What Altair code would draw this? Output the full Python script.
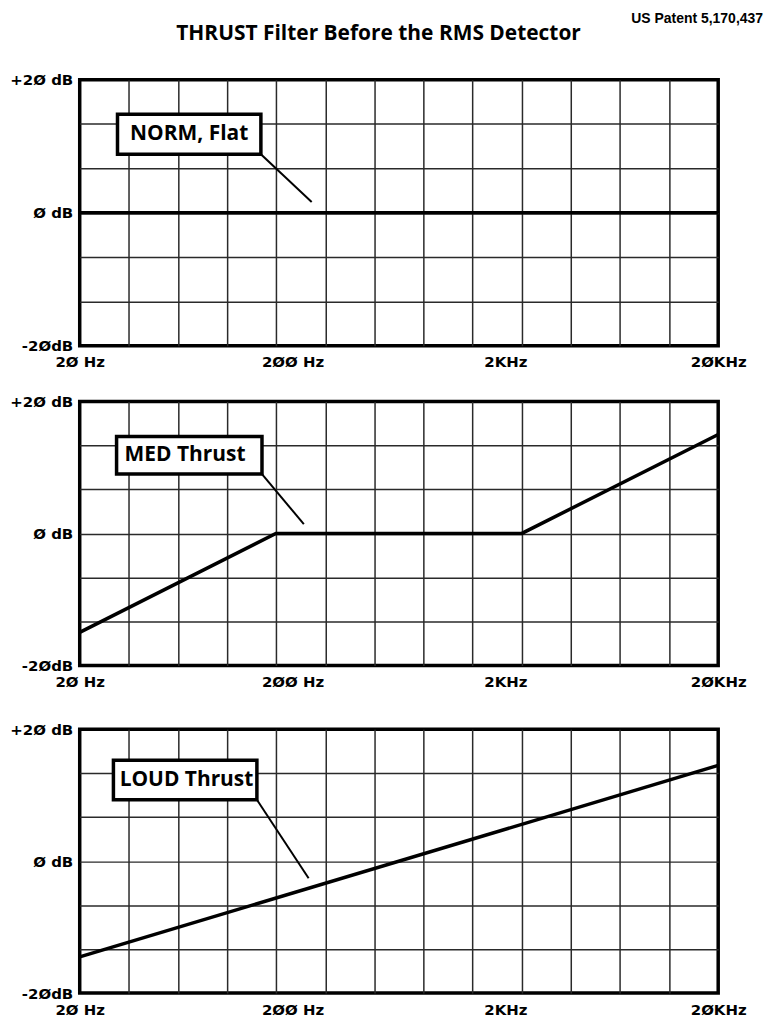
import altair as alt
import pandas as pd

# ---- data ----
norm_freq = [20, 20000]
norm_db = [0, 0]
med_freq = [20, 167, 2390, 20000]
med_db = [-15, 0, 0, 15]
loud_freq = [20, 20000]
loud_db = [-14.5, 14.5]

x_labels = {20: "2Ø Hz", 200: "2ØØ Hz", 2000: "2KHz", 20000: "2ØKHz"}
y_labels = {20: "+2Ø dB", 0: "Ø dB", -20: "-2ØdB"}

# callout annotations: (label, box x0, box x1, box y_top, box y_bottom, text x, leader end x, leader end y)
callouts = [
    ("NORM, Flat", 30.1, 142, 14.8, 8.8, 34.5, 246, 1.6),
    ("MED Thrust", 29.8, 143.7, 14.7, 9.0, 32.5, 226, 1.4),
    ("LOUD Thrust", 28.8, 136, 15.3, 9.3, 30.8, 238, -2.6),
]

TITLE = "THRUST Filter Before the RMS Detector"
PATENT = "US Patent 5,170,437"

# ---- layout / styling ----
W = 641
HEIGHTS = [267, 265, 265]
LABEL_FONT = "DejaVu Sans"
TEXT_FONT = "Open Sans"

grid_x = [20 * 10 ** (3 * k / 13) for k in range(1, 13)]
x_vals = sorted([20.0, 200.0, 2000.0, 20000.0] + grid_x)
y_vals = [-20, -40 / 3, -20 / 3, 0, 20 / 3, 40 / 3, 20]

x_expr = " : ".join(f"datum.value == {k} ? '{v}'" for k, v in x_labels.items()) + " : ''"
y_expr = " : ".join(f"datum.value == {k} ? '{v}'" for k, v in y_labels.items()) + " : ''"

x_axis = alt.Axis(
    values=x_vals, title=None, labelExpr=x_expr, grid=True,
    gridOpacity={"condition": {"test": "datum.value == 20 || datum.value == 200 || datum.value == 2000 || datum.value == 20000", "value": 0}, "value": 1},
    gridColor="#2a2a2a", gridWidth=1.5, ticks=False, domain=False,
    labelFlush=False, labelOverlap=False, labelFont=LABEL_FONT, labelFontWeight="bold",
    labelFontSize=15, labelColor="black", labelPadding=9, labelBaseline="top",
)
y_axis = alt.Axis(
    values=y_vals, title=None, labelExpr=y_expr, grid=True,
    gridOpacity={"condition": {"test": "abs(datum.value) == 20", "value": 0}, "value": 1},
    gridColor="#2a2a2a", gridWidth=1.5, ticks=False, domain=False,
    labelFlush=False, labelOverlap=False, labelFont=LABEL_FONT, labelFontWeight="bold",
    labelFontSize=15, labelColor="black", labelPadding=7,
)

xs = alt.Scale(type="log", domain=[20, 20000], nice=False)
ys = alt.Scale(domain=[-20, 20], nice=False)


def panel(freq, db, callout, height, extra=None):
    label, bx0, bx1, byt, byb, tx, lx, ly = callout
    curve = alt.Chart(pd.DataFrame({"f": freq, "db": db})).mark_line(
        color="black", strokeWidth=3.5, strokeJoin="miter"
    ).encode(
        x=alt.X("f:Q", scale=xs, axis=x_axis),
        y=alt.Y("db:Q", scale=ys, axis=y_axis),
    )
    ann = pd.DataFrame({"label": [label], "bx0": [bx0], "bx1": [bx1], "byt": [byt],
                        "byb": [byb], "tx": [tx], "ty": [(byt + byb) / 2],
                        "lx": [lx], "ly": [ly]})
    base = alt.Chart(ann)
    leader = base.mark_rule(color="black", strokeWidth=2).encode(
        x=alt.X("bx1:Q", scale=xs), y=alt.Y("byb:Q", scale=ys),
        x2="lx:Q", y2="ly:Q",
    )
    box = base.mark_rect(fill="white", stroke="black", strokeWidth=3.5).encode(
        x=alt.X("bx0:Q", scale=xs), x2="bx1:Q",
        y=alt.Y("byt:Q", scale=ys), y2="byb:Q",
    )
    txt = base.mark_text(align="left", baseline="middle", font=TEXT_FONT,
                         fontWeight="bold", fontSize=21, color="black").encode(
        x=alt.X("tx:Q", scale=xs), y=alt.Y("ty:Q", scale=ys), text="label:N",
    )
    layers = [curve, leader, box, txt]
    if extra:
        layers += extra
    return alt.layer(*layers).properties(width=W, height=height)


head = pd.DataFrame({"title": [TITLE], "patent": [PATENT]})
title_mark = alt.Chart(head).mark_text(
    align="center", baseline="middle", font=TEXT_FONT, fontWeight="bold",
    fontSize=21, color="black"
).encode(x=alt.value(300), y=alt.value(-46), text="title:N")
patent_mark = alt.Chart(head).mark_text(
    align="right", baseline="middle", font="Liberation Sans", fontWeight="bold",
    fontSize=14, color="black"
).encode(x=alt.value(686), y=alt.value(-61), text="patent:N")

p1 = panel(norm_freq, norm_db, callouts[0], HEIGHTS[0], [title_mark, patent_mark])
p2 = panel(med_freq, med_db, callouts[1], HEIGHTS[1])
p3 = panel(loud_freq, loud_db, callouts[2], HEIGHTS[2])

chart = alt.vconcat(
    alt.vconcat(p1, p2, spacing=21),
    p3, spacing=29,
).properties(
    padding={"left": 0, "top": 0, "right": 2, "bottom": 0},
    background="white",
).configure_view(
    stroke="black", strokeWidth=3.5
)

chart.save("out.html", embed_options={"renderer": "svg", "actions": False})
